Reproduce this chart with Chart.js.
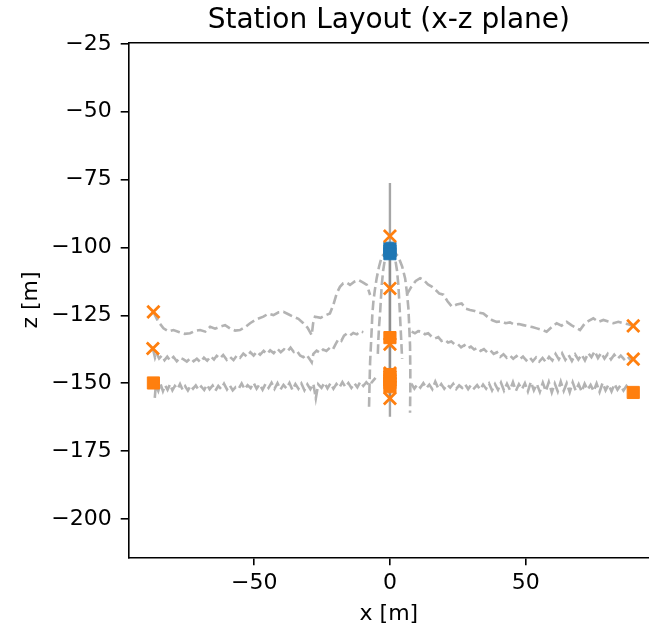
<!DOCTYPE html>
<html>
<head>
<meta charset="utf-8">
<title>Station Layout</title>
<script src="https://cdn.jsdelivr.net/npm/chart.js@4.4.1/dist/chart.umd.min.js"></script>
<style>
  html, body { margin: 0; padding: 0; background: #ffffff; }
  canvas { display: block; }
</style>
</head>
<body>
<canvas id="stationChart" width="649" height="632"></canvas>
<script>
// Axis limits and ticks
var xLimits = [-96.2, 95.4];
var zLimits = [-214.1, -24.6];
var xTicks = [-50, 0, 50];
var zTicks = [-200, -175, -150, -125, -100, -75, -50, -25];

// Stations, [x, z] in metres
var orangeCrosses = [
  [-87.1, -123.7], [-87.3, -137.2], [89.6, -128.9], [89.6, -141.1],
  [0, -95.8], [0, -115.1], [0, -135.6],
  [0, -146.3], [0, -147.6], [0, -148.9], [0, -155.6]
];
var orangeSquares = [
  [-87.1, -149.9], [89.6, -153.4], [0, -133.2],
  [0, -146.8], [0, -148.3], [0, -149.8], [0, -151.3]
];
var blueSquares = [[0, -100.3], [0, -101.3], [0, -102.3]];

// Borehole (solid grey)
var borehole = [[0, -76.3], [0, -162.3]];
var boreholeInner = [[0, -103.5], [0, -155.0]];

// Upper layer trace (dashed grey)
var layerTopLeft = [
  [-87.1, -123.7], [-85.5, -127.0], [-83.4, -129.8], [-81.5, -130.9], [-79.7, -130.4],
  [-77.5, -131.2], [-75.6, -131.8], [-73.6, -131.6], [-71.8, -130.7], [-69.9, -130.4],
  [-68.0, -131.0], [-66.2, -129.2], [-64.4, -129.9], [-62.6, -129.2], [-60.7, -128.6],
  [-58.9, -129.8], [-57.0, -130.6], [-55.2, -130.4], [-53.3, -129.3], [-51.5, -127.9],
  [-49.0, -126.4], [-46.6, -125.5], [-44.8, -124.4], [-42.9, -124.9], [-41.0, -123.9],
  [-39.2, -123.7], [-37.4, -124.6], [-35.6, -125.5], [-33.7, -126.3], [-31.9, -127.9],
  [-30.3, -129.6], [-28.8, -132.3], [-28.3, -128.0], [-27.6, -125.5], [-25.5, -125.9],
  [-23.8, -125.0], [-22.1, -124.3], [-20.8, -121.0], [-19.6, -116.9], [-18.4, -114.5],
  [-17.2, -113.2], [-15.9, -113.0], [-14.7, -113.8], [-13.1, -112.6], [-11.6, -112.0],
  [-10.0, -112.9], [-8.5, -113.8], [-7.3, -117.5]
];
var layerTopRight = [
  [6.2, -117.4], [7.8, -114.6], [9.5, -112.3], [11.1, -111.3], [12.4, -112.0],
  [14.0, -113.6], [15.4, -114.4], [16.8, -115.6], [18.2, -117.0], [19.7, -117.4],
  [21.2, -119.8], [22.8, -121.8], [24.6, -121.0], [26.4, -120.6], [28.0, -122.6],
  [29.5, -123.0], [31.2, -123.4], [32.8, -124.0], [34.4, -124.3], [36.0, -125.6],
  [37.7, -126.8], [39.3, -127.4], [41.0, -127.2], [42.6, -127.9], [44.2, -127.6],
  [45.8, -128.4], [47.5, -128.2], [49.1, -128.6], [50.8, -129.0], [52.4, -129.3],
  [54.1, -129.8], [55.9, -130.3], [57.7, -131.0], [59.5, -129.4], [61.4, -127.9],
  [63.2, -128.8], [65.1, -127.4], [66.8, -128.6], [68.4, -129.5], [70.0, -130.4],
  [71.6, -128.2], [73.2, -127.0], [74.9, -126.1], [76.8, -127.4], [78.6, -126.7],
  [80.4, -127.3], [82.3, -127.9], [84.1, -127.4], [85.9, -127.9], [87.8, -128.3],
  [89.6, -128.9]
];

// Middle layer trace
var layerMidLeft = [
  [-87.3, -137.2], [-86.5, -140.6], [-85.9, -139.0], [-85.0, -140.9], [-84.0, -139.8],
  [-83.0, -141.5], [-82.0, -140.2], [-81.0, -141.6], [-79.7, -140.3], [-78.5, -141.9],
  [-77.3, -140.6], [-76.0, -141.2], [-74.8, -142.0], [-73.5, -140.8], [-72.3, -141.9],
  [-71.1, -141.0], [-69.8, -142.2], [-68.5, -140.6], [-67.3, -141.7], [-66.0, -140.1],
  [-64.8, -141.3], [-63.8, -139.9], [-62.6, -140.9], [-61.4, -139.6], [-60.1, -141.4],
  [-58.9, -140.3], [-57.6, -141.5], [-56.4, -139.8], [-55.2, -140.6], [-54.0, -139.1],
  [-52.7, -140.2], [-51.4, -138.6], [-50.2, -139.8], [-49.0, -138.4], [-47.8, -139.5],
  [-46.5, -138.1], [-45.3, -139.2], [-44.1, -137.9], [-42.8, -138.9], [-41.5, -137.3],
  [-40.2, -138.6], [-39.0, -137.5], [-37.8, -138.3], [-36.6, -136.9], [-35.4, -138.5],
  [-34.3, -138.0], [-33.1, -139.8], [-31.9, -140.4], [-30.7, -139.5], [-29.6, -141.1],
  [-28.8, -142.3], [-28.2, -139.2], [-27.0, -138.0], [-25.8, -138.8], [-24.6, -137.6],
  [-23.4, -138.1], [-22.1, -136.9], [-21.0, -137.5], [-20.0, -135.6], [-19.0, -133.8],
  [-17.9, -134.4], [-16.9, -132.5], [-15.9, -131.7], [-14.7, -132.4], [-13.5, -131.5],
  [-12.2, -132.0], [-11.0, -130.9], [-9.8, -131.2]
];
var layerMidRight = [
  [8.0, -131.0], [9.2, -131.6], [10.4, -130.8], [11.7, -131.0], [12.9, -132.0],
  [14.1, -131.6], [15.4, -132.9], [16.6, -133.5], [17.8, -133.0], [19.0, -134.4],
  [20.2, -134.0], [21.4, -135.0], [22.6, -134.6], [23.8, -135.7], [25.0, -135.6],
  [26.2, -136.8], [27.4, -136.0], [28.6, -137.2], [29.8, -136.5], [31.0, -137.6],
  [32.2, -137.0], [33.4, -138.1], [34.6, -137.4], [35.8, -138.6], [37.0, -137.9],
  [38.2, -139.2], [39.4, -138.6], [40.6, -140.3], [41.8, -139.3], [43.0, -140.6],
  [44.2, -139.8], [45.4, -141.0], [46.6, -140.0], [47.8, -141.2], [49.0, -140.2],
  [50.2, -141.6], [51.4, -140.4], [52.6, -141.9], [53.8, -140.5], [55.0, -142.0],
  [56.2, -140.7], [57.4, -142.2], [58.6, -140.3], [59.8, -141.6], [61.0, -139.2],
  [62.2, -141.2], [63.4, -139.0], [64.6, -141.4], [65.8, -139.6], [67.0, -141.8],
  [68.2, -139.4], [69.4, -141.3], [70.6, -139.5], [71.8, -141.6], [73.0, -138.9],
  [74.2, -140.4], [75.4, -138.2], [76.6, -140.7], [77.8, -138.8], [79.0, -140.9],
  [80.2, -139.2], [81.4, -141.2], [82.6, -139.5], [83.8, -141.0], [85.0, -139.8],
  [86.2, -141.1], [87.4, -140.0], [88.5, -141.3], [89.6, -141.1]
];

// Lower layer trace
var layerLowLeft = [
  [-86.6, -155.4], [-86.2, -150.6], [-85.3, -152.8], [-84.5, -150.2], [-83.6, -152.9],
  [-82.8, -150.8], [-81.9, -152.4], [-81.0, -150.4], [-80.1, -152.6], [-79.2, -151.0],
  [-78.2, -152.1], [-77.3, -150.3], [-76.3, -152.5], [-75.4, -151.1], [-74.4, -152.7],
  [-73.4, -150.9], [-72.5, -152.0], [-71.5, -150.8], [-70.5, -152.4], [-69.5, -151.2],
  [-68.4, -152.5], [-67.4, -150.6], [-66.4, -152.2], [-65.3, -150.9], [-64.3, -152.8],
  [-63.2, -151.0], [-62.2, -152.1], [-61.1, -150.2], [-60.0, -152.3], [-59.0, -150.8],
  [-57.9, -152.6], [-56.8, -151.4], [-55.7, -152.0], [-54.6, -150.1], [-53.5, -152.2],
  [-52.4, -150.7], [-51.3, -151.8], [-50.2, -149.9], [-49.1, -152.0], [-48.0, -150.4],
  [-46.9, -152.4], [-45.8, -150.2], [-44.7, -151.7], [-43.6, -149.8], [-42.5, -152.1],
  [-41.4, -150.0], [-40.3, -152.3], [-39.2, -150.6], [-38.1, -151.9], [-37.0, -149.9],
  [-35.9, -152.5], [-34.8, -150.3], [-33.7, -152.0], [-32.6, -150.1], [-31.5, -152.6],
  [-30.4, -150.4], [-29.3, -152.2], [-28.2, -150.2], [-27.3, -155.6], [-26.4, -150.4],
  [-25.2, -151.7], [-24.1, -149.8], [-23.0, -151.9], [-21.9, -150.0], [-20.8, -152.0],
  [-19.7, -150.3], [-18.6, -151.6], [-17.5, -149.6], [-16.4, -151.4], [-15.3, -149.9],
  [-14.2, -151.7], [-13.1, -150.0], [-12.0, -151.5], [-10.9, -149.5], [-9.8, -151.0],
  [-8.7, -149.6], [-7.6, -150.8], [-6.4, -149.3], [-5.3, -148.0]
];
var layerLowRight = [
  [7.9, -150.2], [9.0, -152.0], [10.1, -150.4], [11.2, -151.6], [12.3, -150.0],
  [13.4, -151.8], [14.5, -150.5], [15.6, -152.2], [16.7, -149.4], [17.8, -151.9],
  [18.9, -150.3], [20.0, -152.0], [21.1, -150.5], [22.2, -151.6], [23.3, -150.2],
  [24.4, -152.1], [25.5, -150.8], [26.6, -151.7], [27.7, -150.4], [28.8, -152.2],
  [29.9, -150.6], [31.0, -151.9], [32.1, -150.7], [33.2, -152.3], [34.3, -150.5],
  [35.4, -152.0], [36.5, -150.1], [37.6, -152.6], [38.7, -150.3], [39.8, -152.4],
  [40.9, -149.8], [42.0, -152.7], [43.1, -150.2], [44.2, -152.5], [45.3, -149.6],
  [46.4, -152.8], [47.5, -150.4], [48.6, -152.2], [49.7, -150.0], [50.8, -153.0],
  [51.9, -149.5], [53.0, -152.6], [54.1, -150.3], [55.2, -153.2], [56.3, -149.8],
  [57.4, -152.9], [58.5, -149.6], [59.6, -153.4], [60.7, -150.1], [61.8, -153.0],
  [62.9, -149.4], [64.0, -152.8], [65.1, -150.0], [66.2, -153.3], [67.3, -149.7],
  [68.4, -152.7], [69.5, -150.4], [70.6, -153.1], [71.7, -150.2], [72.8, -152.4],
  [73.9, -150.6], [75.0, -152.9], [76.1, -150.1], [77.2, -153.2], [78.3, -149.9],
  [79.4, -152.6], [80.5, -150.5], [81.6, -153.0], [82.7, -150.3], [83.8, -152.4],
  [84.9, -150.8], [86.0, -152.7], [87.1, -151.0], [88.4, -152.6], [89.6, -153.4]
];

// Curved traces fanning out below the blue stations
var fanLeftOuter = [
  [-0.5, -100.5], [-3.0, -103.4], [-4.0, -107.0], [-4.9, -111.4], [-5.6, -116.0],
  [-6.1, -120.0], [-6.5, -125.0], [-6.7, -129.8], [-7.0, -136.0], [-7.3, -142.1],
  [-7.5, -150.0], [-7.7, -159.2]
];
var fanLeftInner = [
  [-0.3, -100.5], [-1.8, -104.0], [-2.5, -108.5], [-3.0, -113.8], [-3.3, -118.5],
  [-3.6, -123.7], [-4.0, -129.0], [-4.3, -134.7], [-4.5, -140.5]
];
var fanRightInner = [
  [0.3, -100.5], [1.9, -104.0], [2.6, -108.5], [3.1, -113.8], [3.4, -119.0],
  [3.7, -124.9], [4.0, -131.0], [4.3, -137.2], [4.5, -141.0]
];
var fanRightOuter = [
  [0.5, -100.5], [3.1, -103.4], [4.5, -107.0], [5.6, -111.4], [6.3, -117.0],
  [6.8, -122.4], [7.1, -129.0], [7.4, -136.0], [7.5, -145.0], [7.5, -152.0],
  [7.4, -160.9]
];

var orange = '#ff7f0e';
var blue = '#1f77b4';
var grey = '#b3b3b3';
var fontFamily = "'DejaVu Sans', 'Liberation Sans', sans-serif";

function toPoints(arr) {
  return arr.map(function(p) { return { x: p[0], y: p[1] }; });
}

function dashedTrace(arr) {
  return {
    data: toPoints(arr),
    showLine: true,
    borderColor: grey,
    borderWidth: 2.6,
    borderDash: [9.6, 4.2],
    pointRadius: 0,
    tension: 0
  };
}

function minusSign(v) {
  return String(v).replace('-', '\u2212');
}

// markers first so they are drawn on top of the traces
var datasets = [
  {
    data: toPoints(orangeSquares),
    pointStyle: 'rect',
    pointRadius: 8.6,
    backgroundColor: orange,
    borderColor: orange,
    borderWidth: 1
  },
  {
    data: toPoints(orangeCrosses),
    pointStyle: 'crossRot',
    pointRadius: 8.6,
    borderColor: orange,
    backgroundColor: orange,
    borderWidth: 2.8
  },
  {
    data: toPoints(blueSquares),
    pointStyle: 'rect',
    pointRadius: 8.6,
    backgroundColor: blue,
    borderColor: blue,
    borderWidth: 1
  },
  {
    data: toPoints(boreholeInner),
    showLine: true,
    borderColor: '#8e8e8e',
    borderWidth: 2.4,
    pointRadius: 0
  },
  {
    data: toPoints(borehole),
    showLine: true,
    borderColor: '#a6a6a6',
    borderWidth: 2.4,
    pointRadius: 0
  },
  dashedTrace(fanLeftOuter),
  dashedTrace(fanLeftInner),
  dashedTrace(fanRightInner),
  dashedTrace(fanRightOuter),
  dashedTrace(layerTopLeft),
  dashedTrace(layerTopRight),
  dashedTrace(layerMidLeft),
  dashedTrace(layerMidRight),
  dashedTrace(layerLowLeft),
  dashedTrace(layerLowRight)
];

var ctx = document.getElementById('stationChart').getContext('2d');
var stationChart = new Chart(ctx, {
  type: 'scatter',
  data: { datasets: datasets },
  options: {
    responsive: false,
    animation: false,
    events: [],
    layout: { padding: 0, autoPadding: false },
    plugins: {
      legend: { display: false },
      tooltip: { enabled: false },
      title: { display: false }
    },
    scales: {
      x: {
        type: 'linear',
        position: 'bottom',
        min: xLimits[0],
        max: xLimits[1],
        afterBuildTicks: function(scale) {
          scale.ticks = xTicks.map(function(v) { return { value: v }; });
        },
        afterFit: function(scale) { scale.height = 74.7; },
        ticks: {
          color: '#000',
          font: { family: fontFamily, size: 22 },
          padding: 5,
          maxRotation: 0,
          callback: minusSign
        },
        grid: { drawOnChartArea: false, drawTicks: true, tickLength: 8, color: '#000', lineWidth: 1.6 },
        border: { display: true, color: '#000', width: 1.6 },
        title: {
          display: true,
          text: 'x [m]',
          color: '#000',
          font: { family: fontFamily, size: 22 },
          padding: { top: 0, bottom: 5 }
        }
      },
      xTop: {
        type: 'linear',
        position: 'top',
        min: xLimits[0],
        max: xLimits[1],
        afterFit: function(scale) { scale.height = 42.7; },
        ticks: { display: false },
        grid: { drawOnChartArea: false, drawTicks: false },
        border: { display: true, color: '#000', width: 1.6 },
        title: {
          display: true,
          text: 'Station Layout (x-z plane)',
          color: '#000',
          font: { family: fontFamily, size: 28 },
          padding: { top: 4, bottom: 0 }
        }
      },
      y: {
        type: 'linear',
        position: 'left',
        min: zLimits[0],
        max: zLimits[1],
        afterBuildTicks: function(scale) {
          scale.ticks = zTicks.map(function(v) { return { value: v }; });
        },
        afterFit: function(scale) { scale.width = 128.7; },
        ticks: {
          color: '#000',
          font: { family: fontFamily, size: 22 },
          padding: 9,
          callback: minusSign
        },
        grid: { drawOnChartArea: false, drawTicks: true, tickLength: 8, color: '#000', lineWidth: 1.6 },
        border: { display: true, color: '#000', width: 1.6 },
        title: {
          display: true,
          text: 'z [m]',
          color: '#000',
          font: { family: fontFamily, size: 22 },
          padding: { top: 18, bottom: 0 }
        }
      }
    }
  }
});
</script>
</body>
</html>
